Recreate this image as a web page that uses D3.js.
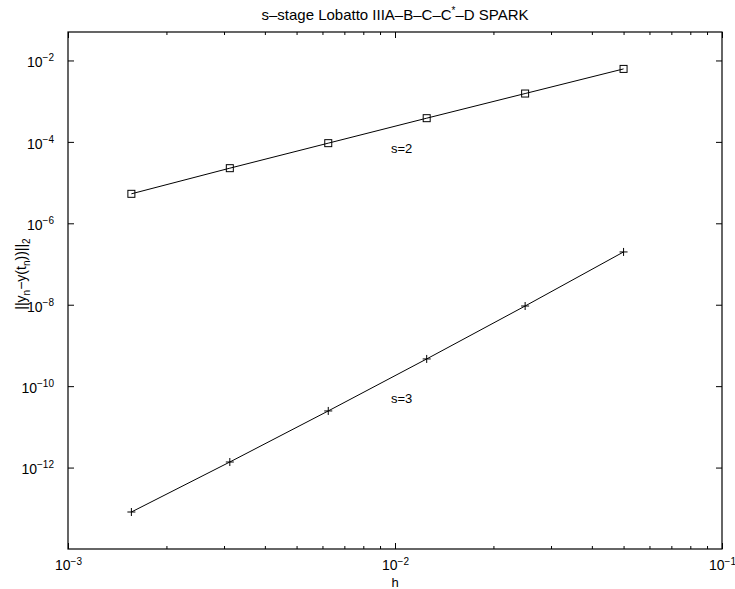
<!DOCTYPE html>
<html lang="en">
<head>
    <meta charset="UTF-8">
    <title>Lobatto SPARK convergence</title>
    <script src="https://d3js.org/d3.v7.min.js"></script>
    <style>
        body { margin: 0; background: #fff; }
        svg { display: block; font-family: "Liberation Sans", Arial, Helvetica, sans-serif; }
        text { fill: #000; }
    </style>
</head>
<body>
    <svg id="chart" width="735" height="589"></svg>

    <script>
        // step sizes h and global errors ||y_n - y(t_n)||_2
        const hValues = [0.0015625, 0.003125, 0.00625, 0.0125, 0.025, 0.05];
        const errS2 = [5.3e-6, 2.26e-5, 9.3e-5, 3.82e-4, 1.54e-3, 6.2e-3];
        const errS3 = [8.1e-14, 1.37e-12, 2.46e-11, 4.66e-10, 9.3e-9, 1.98e-7];

        const xMajor = [1e-3, 1e-2, 1e-1];
        const xExp = ["−3", "−2", "−1"];
        const yMajor = [1e-12, 1e-10, 1e-8, 1e-6, 1e-4, 1e-2];
        const yExp = ["−12", "−10", "−8", "−6", "−4", "−2"];
        const xMinor = [2, 3, 4, 5, 6, 7, 8, 9].flatMap(m => [m * 1e-3, m * 1e-2]);

        const mLeft = 68, mRight = 722, mTop = 32, mBottom = 549;
        const svg = d3.select("#chart");

        const x = d3.scaleLog().domain([1e-3, 1e-1]).range([mLeft, mRight]);
        const y = d3.scaleLog().domain([1e-14, 0.05]).range([mBottom, mTop]);

        // frame
        svg.append("rect").attr("x", mLeft).attr("y", mTop)
            .attr("width", mRight - mLeft).attr("height", mBottom - mTop)
            .attr("fill", "none").attr("stroke", "#000").attr("stroke-width", 1.2);

        const noDomain = g => g.select(".domain").remove();
        const tickStyle = g => g.selectAll("line").attr("stroke", "#000").attr("stroke-width", 1);

        // minor x ticks, bottom and top
        svg.append("g").attr("transform", `translate(0,${mBottom})`)
            .call(d3.axisBottom(x).tickValues(xMinor).tickSizeInner(-3).tickFormat(""))
            .call(noDomain).call(tickStyle);
        svg.append("g").attr("transform", `translate(0,${mTop})`)
            .call(d3.axisTop(x).tickValues(xMinor).tickSizeInner(-3).tickFormat(""))
            .call(noDomain).call(tickStyle);

        // major x ticks with labels
        const gx = svg.append("g").attr("transform", `translate(0,${mBottom})`)
            .call(d3.axisBottom(x).tickValues(xMajor).tickSizeInner(-6).tickSizeOuter(0).tickPadding(8))
            .call(noDomain).call(tickStyle);
        svg.append("g").attr("transform", `translate(0,${mTop})`)
            .call(d3.axisTop(x).tickValues(xMajor).tickSizeInner(-6).tickSizeOuter(0).tickFormat(""))
            .call(noDomain).call(tickStyle);

        gx.selectAll(".tick text").each(function(d, i) {
            const t = d3.select(this).text(null)
                .attr("font-size", 14).attr("font-family", null)
                .attr("text-anchor", "middle").attr("dy", "0.95em");
            t.append("tspan").text("10");
            t.append("tspan").attr("dy", "-0.55em").attr("font-size", 10).text(xExp[i]);
        });

        // y ticks with labels, left and right
        const gy = svg.append("g").attr("transform", `translate(${mLeft},0)`)
            .call(d3.axisLeft(y).tickValues(yMajor).tickSizeInner(-6).tickSizeOuter(0).tickPadding(14))
            .call(noDomain).call(tickStyle);
        svg.append("g").attr("transform", `translate(${mRight},0)`)
            .call(d3.axisRight(y).tickValues(yMajor).tickSizeInner(-6).tickSizeOuter(0).tickFormat(""))
            .call(noDomain).call(tickStyle);

        gy.selectAll(".tick text").each(function(d, i) {
            const t = d3.select(this).text(null)
                .attr("font-size", 14).attr("font-family", null)
                .attr("text-anchor", "end").attr("dy", "0.45em");
            t.append("tspan").text("10");
            t.append("tspan").attr("dy", "-0.6em").attr("font-size", 10).text(yExp[i]);
        });

        // series
        const line = d3.line().x(d => x(d[0])).y(d => y(d[1]));
        const s2 = hValues.map((h, i) => [h, errS2[i]]);
        const s3 = hValues.map((h, i) => [h, errS3[i]]);

        svg.append("path").datum(s2).attr("d", line)
            .attr("fill", "none").attr("stroke", "#000").attr("stroke-width", 1);
        svg.append("path").datum(s3).attr("d", line)
            .attr("fill", "none").attr("stroke", "#000").attr("stroke-width", 1);

        svg.selectAll(".sq").data(s2).enter().append("rect")
            .attr("x", d => x(d[0]) - 3.5).attr("y", d => y(d[1]) - 3.5)
            .attr("width", 7).attr("height", 7)
            .attr("fill", "none").attr("stroke", "#000").attr("stroke-width", 1);

        svg.selectAll(".plus").data(s3).enter().append("path")
            .attr("d", d => {
                const cx = x(d[0]), cy = y(d[1]);
                return `M${cx - 4},${cy}H${cx + 4}M${cx},${cy - 4}V${cy + 4}`;
            })
            .attr("stroke", "#000").attr("stroke-width", 1);

        // annotations
        svg.append("text").attr("x", 391).attr("y", 153).attr("font-size", 13).text("s=2");
        svg.append("text").attr("x", 391).attr("y", 403).attr("font-size", 13).text("s=3");

        // axis labels and title
        svg.append("text").attr("x", (mLeft + mRight) / 2).attr("y", 587)
            .attr("text-anchor", "middle").attr("font-size", 13).text("h");

        const yl = svg.append("text").attr("transform", "translate(26,274) rotate(-90)")
            .attr("text-anchor", "middle").attr("font-size", 14);
        yl.append("tspan").text("||y");
        yl.append("tspan").attr("dy", 4).attr("font-size", 10).text("n");
        yl.append("tspan").attr("dy", -4).text("−y(t");
        yl.append("tspan").attr("dy", 4).attr("font-size", 10).text("n");
        yl.append("tspan").attr("dy", -4).text("))||");
        yl.append("tspan").attr("dy", 4).attr("font-size", 10).text("2");

        const title = svg.append("text").attr("x", (mLeft + mRight) / 2).attr("y", 20)
            .attr("text-anchor", "middle").attr("font-size", 15);
        title.append("tspan").text("s–stage Lobatto IIIA–B–C–C");
        title.append("tspan").attr("dy", -6).attr("font-size", 10).text("*");
        title.append("tspan").attr("dy", 6).text("–D SPARK");
    </script>
</body>
</html>
